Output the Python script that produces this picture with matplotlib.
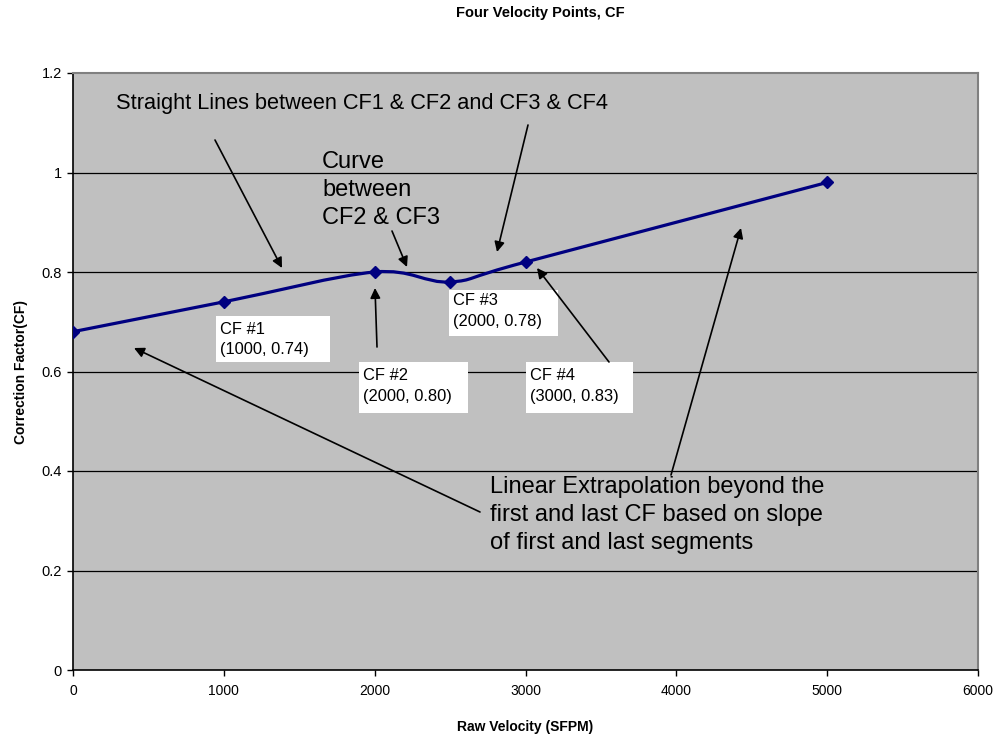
import matplotlib
matplotlib.use("Agg")
import matplotlib.pyplot as plt
from matplotlib.path import Path
from matplotlib.patches import PathPatch, Rectangle
import numpy as np

plt.rcParams['font.family'] = ['Liberation Sans', 'DejaVu Sans']

velocity = [0, 1000, 2000, 2500, 3000, 5000]
cf = [0.68, 0.74, 0.80, 0.78, 0.82, 0.98]
x_ticks = [0, 1000, 2000, 3000, 4000, 5000, 6000]
y_ticks = [0, 0.2, 0.4, 0.6, 0.8, 1.0, 1.2]
y_tick_labels = ['0', '0.2', '0.4', '0.6', '0.8', '1', '1.2']

title = "Four Velocity Points, CF"
xlabel = "Raw Velocity (SFPM)"
ylabel = "Correction Factor(CF)"

fig = plt.figure(figsize=(10.02, 7.38), dpi=100)
ax = fig.add_axes([73/1002, 68/738, 905/1002, 597/738])
ax.set_facecolor('#C0C0C0')
ax.set_xlim(0, 6000)
ax.set_ylim(0, 1.2)

# smoothed line (Excel-like Catmull-Rom Bezier) built in scaled space
sx, sy = 905/6000, 597/1.2
P = np.column_stack([np.array(velocity, float)*sx, np.array(cf, float)*sy])
n = len(P)
verts = [P[0] / [sx, sy]]
codes = [Path.MOVETO]
for i in range(n-1):
    p0 = P[i-1] if i > 0 else P[i]
    p1 = P[i]
    p2 = P[i+1]
    p3 = P[i+2] if i+2 < n else P[i+1]
    c1 = p1 + (p2 - p0)/6
    c2 = p2 - (p3 - p1)/6
    for c in (c1, c2, p2):
        verts.append(c / [sx, sy])
        codes.append(Path.CURVE4)
path = Path(verts, codes)
ax.add_patch(PathPatch(path, facecolor='none', edgecolor='#000080', lw=2.3, zorder=3))
ax.plot(velocity, cf, linestyle='none', marker='D', color='#000080', ms=6.5, zorder=4)

ax.set_xticks(x_ticks)
ax.set_xticklabels([str(t) for t in x_ticks], fontsize=10)
ax.set_yticks(y_ticks)
ax.set_yticklabels(y_tick_labels, fontsize=10.5)
ax.tick_params(direction='out', length=4, width=1, color='black', pad=4)
ax.tick_params(axis='x', pad=6)
for yv in y_ticks[1:-1]:
    ax.axhline(yv, color='black', lw=0.9, zorder=1)
ax.spines['left'].set_color('black')
ax.spines['bottom'].set_color('black')
ax.spines['left'].set_linewidth(1.2)
ax.spines['bottom'].set_linewidth(1.2)
ax.spines['top'].set_color('#808080')
ax.spines['right'].set_color('#808080')
ax.spines['top'].set_linewidth(1.5)
ax.spines['right'].set_linewidth(1.5)

ax.set_xlabel(xlabel, fontsize=10, fontweight='bold', labelpad=16)
ax.set_ylabel(ylabel, fontsize=10, fontweight='bold', labelpad=10)
fig.text(540/1002, 1 - 13/738, title, fontsize=10.5, fontweight='bold', ha='center', va='center')

def px(xp, yp):
    return ((xp-73)/905*6000, (670-yp)/597*1.2)

ax.text(*px(116, 103), "Straight Lines between CF1 & CF2 and CF3 & CF4", fontsize=15.7, va='center', ha='left')
ax.text(*px(322, 151), "Curve\nbetween\nCF2 & CF3", fontsize=17, va='top', ha='left', linespacing=1.36)
ax.text(*px(490, 476), "Linear Extrapolation beyond the\nfirst and last CF based on slope\nof first and last segments",
        fontsize=17, va='top', ha='left', linespacing=1.36)

# white label boxes (pixel extents) and their texts
boxes = [
    ((216, 316, 330, 362), (220, 339.5), "CF #1\n(1000, 0.74)"),
    ((359, 362, 468, 413), (363, 386), "CF #2\n(2000, 0.80)"),
    ((449, 290, 558, 336), (453, 311), "CF #3\n(2000, 0.78)"),
    ((526, 362, 633, 413), (530, 386), "CF #4\n(3000, 0.83)"),
]
for (x0, y0, x1, y1), (tx, ty), label in boxes:
    bx0, by1 = px(x0, y0)
    bx1, by0 = px(x1, y1)
    ax.add_patch(Rectangle((bx0, by0), bx1 - bx0, by1 - by0, facecolor='white', edgecolor='none', zorder=2))
    ax.text(*px(tx, ty), label, fontsize=11.9, va='center', ha='left', linespacing=1.42, zorder=5)

arrows = [
    ((215, 140), (282, 268)),
    ((528, 125), (497, 252)),
    ((392, 231), (407, 267)),
    ((377, 347), (375, 288)),
    ((609, 362), (537, 268)),
    ((480, 512), (134, 348)),
    ((671, 475), (741, 228)),
]
for (a, b) in arrows:
    ax.annotate("", xy=px(*b), xytext=px(*a),
                arrowprops=dict(arrowstyle='-|>', color='black', lw=1.2, mutation_scale=15,
                                shrinkA=0, shrinkB=0), zorder=5)

fig.savefig("out.png", dpi=100)
